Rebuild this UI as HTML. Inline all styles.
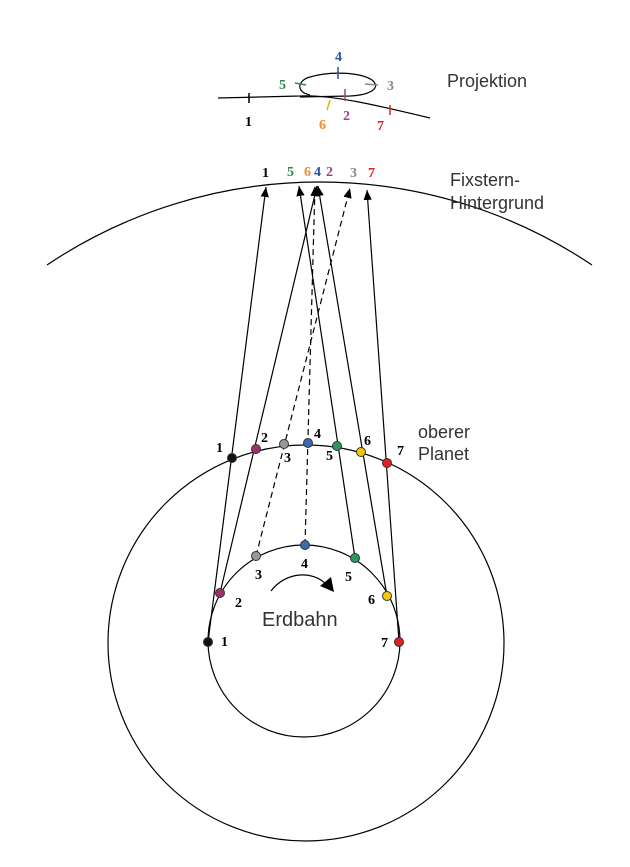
<!DOCTYPE html>
<html><head><meta charset="utf-8"><style>
html,body{margin:0;padding:0;background:#fff}
svg{display:block}
.n{font-family:"Liberation Serif",serif;font-weight:bold;font-size:14px}
.s{font-family:"Liberation Sans",sans-serif;font-size:18px;fill:#333}
</style></head><body>
<svg width="630" height="867" viewBox="0 0 630 867" xmlns="http://www.w3.org/2000/svg">
<defs>
<marker id="b" markerWidth="10" markerHeight="12" refX="12" refY="5" orient="auto" markerUnits="userSpaceOnUse" viewBox="0 0 12 10"><path d="M0,0 L12,5 L0,10 Z" fill="#000"/></marker></defs>
<g fill="none" stroke="#000" stroke-width="1.2">
<path d="M47,265 A489,489 0 0 1 592,265"/>
<circle cx="306" cy="643" r="198"/>
<circle cx="304" cy="641" r="96"/>
<line x1="208" y1="642" x2="266" y2="187" marker-end="url(#b)"/>
<line x1="220" y1="593" x2="317" y2="186" marker-end="url(#b)"/>
<line x1="256" y1="556" x2="350" y2="188" stroke-dasharray="6,4" marker-end="url(#b)"/>
<line x1="305" y1="545" x2="315" y2="186" stroke-dasharray="6,4" marker-end="url(#b)"/>
<line x1="355" y1="558" x2="299" y2="186" marker-end="url(#b)"/>
<line x1="387" y1="596" x2="318" y2="186" marker-end="url(#b)"/>
<line x1="399" y1="642" x2="367" y2="190" marker-end="url(#b)"/>
<path d="M218,98 L300,96 C330,94 380,106 430,118"/>
<path d="M310,95 C295,92 298,80 310,77 C330,71 360,72 372,80 C382,88 370,95 350,96 L300,97"/>
<path d="M271,591 C285,572 312,570 326,584"/>
</g>
<path d="M320,586 L331,577 L334,592 Z" fill="#000"/>
<g stroke-width="1.5">
<line x1="249" y1="93" x2="249" y2="103" stroke="#000"/>
<line x1="345" y1="89" x2="345" y2="101" stroke="#a0408a"/>
<line x1="365" y1="84" x2="378" y2="85" stroke="#888"/>
<line x1="338" y1="67" x2="338" y2="79" stroke="#2d4fa0"/>
<line x1="295" y1="83" x2="306" y2="85" stroke="#2a8a50"/>
<line x1="330" y1="100" x2="327" y2="110" stroke="#f0b000"/>
<line x1="390" y1="105" x2="390" y2="115" stroke="#e02020"/>
</g>
<g class="n">
<text x="245" y="126" fill="#000">1</text>
<text x="343" y="120" fill="#a0408a">2</text>
<text x="387" y="90" fill="#888">3</text>
<text x="335" y="61" fill="#2d4fa0">4</text>
<text x="279" y="89" fill="#2a8a50">5</text>
<text x="319" y="129" fill="#f08a30">6</text>
<text x="377" y="130" fill="#e02020">7</text>
<text x="262" y="177" fill="#000">1</text>
<text x="287" y="176" fill="#2a8a50">5</text>
<text x="304" y="176" fill="#f08a30">6</text>
<text x="314" y="176" fill="#2d4fa0">4</text>
<text x="326" y="176" fill="#a0408a">2</text>
<text x="350" y="177" fill="#888">3</text>
<text x="368" y="177" fill="#e02020">7</text>
<text x="216" y="452" fill="#000">1</text>
<text x="261" y="442" fill="#000">2</text>
<text x="284" y="462" fill="#000">3</text>
<text x="314" y="438" fill="#000">4</text>
<text x="326" y="460" fill="#000">5</text>
<text x="364" y="445" fill="#000">6</text>
<text x="397" y="455" fill="#000">7</text>
<text x="221" y="646" fill="#000">1</text>
<text x="235" y="607" fill="#000">2</text>
<text x="255" y="579" fill="#000">3</text>
<text x="301" y="568" fill="#000">4</text>
<text x="345" y="581" fill="#000">5</text>
<text x="368" y="604" fill="#000">6</text>
<text x="381" y="647" fill="#000">7</text>
</g>
<g stroke="#333" stroke-width="1">
<circle cx="232" cy="458" r="4.5" fill="#111"/>
<circle cx="256" cy="449" r="4.5" fill="#a0306a"/>
<circle cx="284" cy="444" r="4.5" fill="#999"/>
<circle cx="308" cy="443" r="4.5" fill="#3a6ab0"/>
<circle cx="337" cy="446" r="4.5" fill="#2a9a5a"/>
<circle cx="361" cy="452" r="4.5" fill="#f5c800"/>
<circle cx="387" cy="463" r="4.5" fill="#e02020"/>
<circle cx="208" cy="642" r="4.5" fill="#111"/>
<circle cx="220" cy="593" r="4.5" fill="#a0306a"/>
<circle cx="256" cy="556" r="4.5" fill="#999"/>
<circle cx="305" cy="545" r="4.5" fill="#3a6ab0"/>
<circle cx="355" cy="558" r="4.5" fill="#2a9a5a"/>
<circle cx="387" cy="596" r="4.5" fill="#f5c800"/>
<circle cx="399" cy="642" r="4.5" fill="#e02020"/>
</g>
<text class="s" x="447" y="87">Projektion</text>
<text class="s" x="450" y="186">Fixstern-</text>
<text class="s" x="450" y="209">Hintergrund</text>
<text class="s" x="418" y="438">oberer</text>
<text class="s" x="418" y="460">Planet</text>
<text class="s" x="262" y="626" style="font-size:20px">Erdbahn</text>
</svg>
</body></html>
